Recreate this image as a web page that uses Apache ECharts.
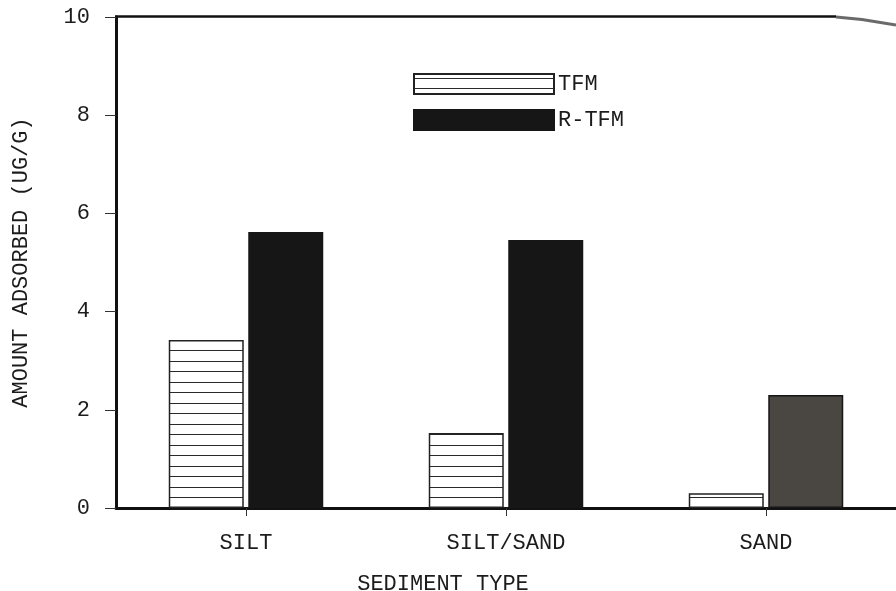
<!DOCTYPE html>
<html>
<head>
<meta charset="utf-8">
<style>
  html, body { margin: 0; padding: 0; background: #fff; }
  #chart { width: 896px; height: 591px; }
</style>
<script src="https://cdn.jsdelivr.net/npm/echarts@6/dist/echarts.min.js"></script>
</head>
<body>
<div id="chart"></div>
<script>
// ---- data ----
var categories = ['SILT', 'SILT/SAND', 'SAND'];
var tfmValues = [3.42, 1.53, 0.30];
var rtfmValues = [5.62, 5.46, 2.30];
var yTicks = [0, 2, 4, 6, 8, 10];
var seriesNames = ['TFM', 'R-TFM'];

// ---- hatch pattern (horizontal lines) ----
var pc = document.createElement('canvas');
pc.width = 4; pc.height = 21;
var pctx = pc.getContext('2d');
pctx.fillStyle = '#ffffff';
pctx.fillRect(0, 0, 4, 21);
pctx.fillStyle = '#2a2a2a';
pctx.fillRect(0, 4, 4, 1);
pctx.fillRect(0, 14, 4, 1);

var FONT = 'Liberation Mono';
var FS = 22;
var TXT = '#1c1c1c';

var chart = echarts.init(document.getElementById('chart'), null, { renderer: 'canvas' });

var rtfmData = rtfmValues.map(function (v, i) {
  if (i === 2) return { value: v, itemStyle: { color: '#4a4743' } };
  return v;
});

chart.setOption({
  animation: false,
  backgroundColor: '#ffffff',
  grid: { left: 116, top: 17, width: 785, height: 491, containLabel: false },
  legend: {
    orient: 'vertical',
    left: 413,
    top: 73,
    icon: 'rect',
    itemWidth: 140,
    itemHeight: 20,
    itemGap: 14,
    padding: 0,
    textStyle: { fontFamily: FONT, fontSize: FS, color: TXT, padding: [6, 0, 0, -1] },
    data: seriesNames
  },
  xAxis: {
    type: 'category',
    data: categories,
    axisLine: { show: true, lineStyle: { color: '#111', width: 3 } },
    axisTick: { show: true, alignWithLabel: true, length: 8, lineStyle: { color: '#333', width: 1 } },
    axisLabel: { margin: 24, fontFamily: FONT, fontSize: FS, color: TXT },
    splitLine: { show: false }
  },
  yAxis: {
    type: 'value',
    min: 0,
    max: 10,
    interval: 2,
    name: 'AMOUNT ADSORBED (UG/G)',
    nameLocation: 'middle',
    nameGap: 84,
    nameTextStyle: { fontFamily: FONT, fontSize: FS, color: TXT },
    axisLine: { show: true, lineStyle: { color: '#111', width: 3 } },
    axisTick: { show: true, length: 11, lineStyle: { color: '#333', width: 1 } },
    axisLabel: {
      margin: 26, fontFamily: FONT, fontSize: FS, color: TXT, padding: [4, 0, 0, 0],
      formatter: function (v) { return yTicks.indexOf(v) >= 0 ? String(v) : ''; }
    },
    splitLine: { show: false }
  },
  series: [
    {
      name: seriesNames[0],
      type: 'bar',
      data: tfmValues,
      barWidth: 75,
      barGap: '6%',
      itemStyle: {
        color: { image: pc, repeat: 'repeat' },
        borderColor: '#222',
        borderWidth: 1.5
      }
    },
    {
      name: seriesNames[1],
      type: 'bar',
      data: rtfmData,
      barWidth: 75,
      barGap: '6%',
      itemStyle: { color: '#161616', borderColor: '#161616', borderWidth: 1.5 }
    }
  ],
  graphic: [
    {
      type: 'polyline',
      silent: true,
      shape: { points: [[115, 16.5], [836, 16.5]] },
      style: { stroke: '#111', lineWidth: 2.5, fill: null }
    },
    {
      type: 'polyline',
      silent: true,
      shape: { points: [[836, 17], [862, 19.5], [896, 25]] },
      style: { stroke: '#6a6a6a', lineWidth: 3, fill: null }
    },
    {
      type: 'text',
      silent: true,
      x: 443,
      y: 584,
      style: {
        text: 'SEDIMENT TYPE',
        fontFamily: FONT,
        fontSize: FS,
        fill: TXT,
        align: 'center',
        verticalAlign: 'middle'
      }
    }
  ]
});
</script>
</body>
</html>
